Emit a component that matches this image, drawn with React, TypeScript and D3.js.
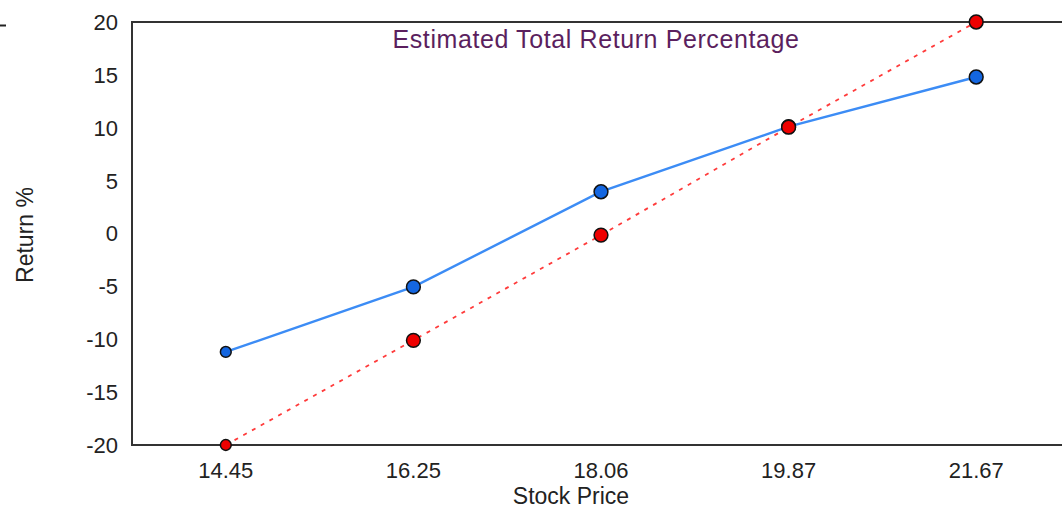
import React, { useEffect, useRef } from "react";
import * as d3 from "d3";

const prices = ["14.45", "16.25", "18.06", "19.87", "21.67"];
const estimatedReturn = [-11.2, -5.05, 3.95, 10.1, 14.8];
const stockReturn = [-20, -10.1, -0.15, 10.05, 20];
const yTicks = [-20, -15, -10, -5, 0, 5, 10, 15, 20];

const width = 1062;
const height = 509;
const margin = { top: 22, right: -8, bottom: 64, left: 132 };

const App = () => {
  const svgRef = useRef<SVGSVGElement | null>(null);

  useEffect(() => {
    const svg = d3.select(svgRef.current);
    svg.selectAll("*").remove();

    const x = d3
      .scalePoint()
      .domain(prices)
      .range([margin.left, width - margin.right])
      .padding(0.5);

    const y = d3
      .scaleLinear()
      .domain([-20, 20])
      .range([height - margin.bottom, margin.top]);

    const font = "'Liberation Sans', Arial, sans-serif";

    // little stray mark top-left
    svg
      .append("line")
      .attr("x1", 0)
      .attr("x2", 6)
      .attr("y1", 25.5)
      .attr("y2", 25.5)
      .attr("stroke", "#222")
      .attr("stroke-width", 2);

    // plot frame
    svg
      .append("rect")
      .attr("x", margin.left)
      .attr("y", margin.top)
      .attr("width", width - margin.right - margin.left)
      .attr("height", height - margin.bottom - margin.top)
      .attr("fill", "white")
      .attr("stroke", "#333")
      .attr("stroke-width", 2);

    // y tick labels
    svg
      .append("g")
      .selectAll("text")
      .data(yTicks)
      .join("text")
      .attr("x", 118)
      .attr("y", (d) => y(d))
      .attr("dy", "0.36em")
      .attr("text-anchor", "end")
      .attr("font-family", font)
      .attr("font-size", "22px")
      .attr("fill", "#222")
      .text((d) => d);

    // x tick labels
    svg
      .append("g")
      .selectAll("text")
      .data(prices)
      .join("text")
      .attr("x", (d) => x(d)!)
      .attr("y", 478)
      .attr("text-anchor", "middle")
      .attr("font-family", font)
      .attr("font-size", "22px")
      .attr("fill", "#222")
      .text((d) => d);

    // axis titles
    svg
      .append("text")
      .attr("x", 571)
      .attr("y", 504)
      .attr("text-anchor", "middle")
      .attr("font-family", font)
      .attr("font-size", "23px")
      .attr("fill", "#222")
      .text("Stock Price");

    svg
      .append("text")
      .attr("transform", `translate(33,235) rotate(-90)`)
      .attr("text-anchor", "middle")
      .attr("font-family", font)
      .attr("font-size", "23px")
      .attr("fill", "#222")
      .text("Return %");

    // chart title
    svg
      .append("text")
      .attr("x", 596)
      .attr("y", 48)
      .attr("text-anchor", "middle")
      .attr("font-family", font)
      .attr("font-size", "25px")
      .attr("letter-spacing", "0.6px")
      .attr("fill", "#5b1f5e")
      .text("Estimated Total Return Percentage");

    const line = d3
      .line<number>()
      .x((_, i) => x(prices[i])!)
      .y((d) => y(d));

    // blue series
    svg
      .append("path")
      .datum(estimatedReturn)
      .attr("d", line)
      .attr("fill", "none")
      .attr("stroke", "#3c8cf5")
      .attr("stroke-width", 2.4);

    // red dashed series
    svg
      .append("path")
      .datum(stockReturn)
      .attr("d", line)
      .attr("fill", "none")
      .attr("stroke", "#ff3b3b")
      .attr("stroke-width", 1.8)
      .attr("stroke-dasharray", "4,6");

    const drawMarkers = (vals: number[], color: string) => {
      svg
        .append("g")
        .selectAll("circle")
        .data(vals)
        .join("circle")
        .attr("cx", (_, i) => x(prices[i])!)
        .attr("cy", (d) => y(d))
        .attr("r", (_, i) => (i === 0 ? 5.4 : 6.9))
        .attr("fill", color)
        .attr("stroke", "#111")
        .attr("stroke-width", 1.5);
    };

    drawMarkers(estimatedReturn, "#1466e0");
    drawMarkers(stockReturn, "#ee0000");
  }, []);

  return (
    <svg
      ref={svgRef}
      width={width}
      height={height}
      style={{ position: "absolute", left: 0, top: 0, background: "white" }}
    />
  );
};

export default App;
